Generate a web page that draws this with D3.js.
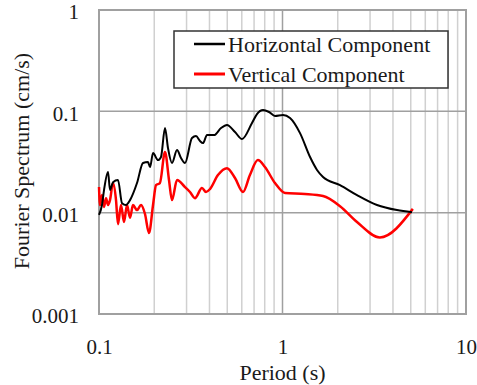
<!DOCTYPE html>
<html>
<head>
<meta charset="utf-8">
<script src="https://cdn.jsdelivr.net/npm/d3@7"></script>
<style>
  body { margin: 0; background: #fff; }
  svg text { font-family: "Liberation Serif", "Times New Roman", serif; fill: #1a1a1a; }
</style>
</head>
<body>
<svg id="chart" width="477" height="385"></svg>
<script>
// period (s) and amplitude
const hPeriod = [0.1, 0.1038, 0.1065, 0.112, 0.1148, 0.1192, 0.1269, 0.1335, 0.1403, 0.1476,
  0.1611, 0.1737, 0.1849, 0.1897, 0.197, 0.2097, 0.2177, 0.2289, 0.2377, 0.2499,
  0.2662, 0.2798, 0.2942, 0.3212, 0.3378, 0.3551, 0.3687, 0.3878, 0.4235, 0.4624,
  0.4983, 0.551, 0.6017, 0.682, 0.7261, 0.783, 0.8443, 0.9102, 1.0063, 1.099,
  1.246, 1.413, 1.542, 1.663, 2.058, 2.547, 3.273, 4.207, 5.078];
const hValue = [0.0095, 0.0119, 0.0167, 0.0252, 0.0167, 0.02, 0.021, 0.0124, 0.0119, 0.0133,
  0.0196, 0.0309, 0.0316, 0.0282, 0.0388, 0.033, 0.0354, 0.0684, 0.0434, 0.0309,
  0.0415, 0.0346, 0.0309, 0.0545, 0.057, 0.0509, 0.0486, 0.0583, 0.0583, 0.0684,
  0.0733, 0.0625, 0.0533, 0.0767, 0.094, 0.103, 0.0985, 0.0899, 0.092, 0.0859,
  0.061, 0.0354, 0.0264, 0.0225, 0.0187, 0.0149, 0.0119, 0.0106, 0.0101];

const vPeriod = [0.1, 0.1013, 0.1038, 0.1065, 0.1092, 0.112, 0.1148, 0.1192, 0.1238, 0.1269,
  0.1318, 0.1369, 0.1421, 0.1476, 0.1532, 0.1611, 0.1694, 0.1781, 0.1872, 0.197,
  0.2045, 0.2147, 0.2289, 0.2407, 0.2499, 0.2662, 0.2942, 0.3132, 0.3334, 0.3641,
  0.3828, 0.4025, 0.4449, 0.4983, 0.551, 0.6093, 0.6645, 0.734, 0.8022, 0.9102,
  1.033, 1.325, 1.663, 2.058, 2.547, 3.395, 5.132];
const vValue = [0.0179, 0.0119, 0.0149, 0.0114, 0.0139, 0.0119, 0.0133, 0.0196, 0.0133, 0.0077,
  0.0119, 0.0081, 0.0119, 0.0089, 0.0119, 0.0106, 0.0119, 0.0097, 0.0063, 0.0119,
  0.0187, 0.0196, 0.0397, 0.021, 0.0133, 0.021, 0.0179, 0.016, 0.0139, 0.0175,
  0.016, 0.0171, 0.0235, 0.0275, 0.022, 0.016, 0.0235, 0.033, 0.0282, 0.0196,
  0.0156, 0.0153, 0.0146, 0.0116, 0.0081, 0.0057, 0.0109];

const xTicks = [0.1, 1, 10];
const yTicks = [0.001, 0.01, 0.1, 1];
const seriesNames = ["Horizontal Component", "Vertical Component"];

const margin = {left: 99, right: 11, top: 10, bottom: 71};
const width = 477, height = 385;
const svg = d3.select("#chart");

const x = d3.scaleLog().domain([0.1, 10]).range([margin.left, width - margin.right]);
const y = d3.scaleLog().domain([0.001, 1]).range([height - margin.bottom, margin.top]);

// minor vertical grid
const minor = [];
for (let d = 0.1; d < 10; d *= 10)
  for (let k = 2; k <= 9; k++) minor.push(d * k);
svg.append("g").selectAll("line").data(minor).enter().append("line")
  .attr("x1", d => x(d)).attr("x2", d => x(d))
  .attr("y1", y(1)).attr("y2", y(0.001))
  .attr("stroke", "#d0d0d0").attr("stroke-width", 1.5);

// decade grid
svg.append("g").selectAll("line").data([1]).enter().append("line")
  .attr("x1", d => x(d)).attr("x2", d => x(d))
  .attr("y1", y(1)).attr("y2", y(0.001))
  .attr("stroke", "#a0a0a0").attr("stroke-width", 1.5);
svg.append("g").selectAll("line").data([0.01, 0.1]).enter().append("line")
  .attr("x1", x(0.1)).attr("x2", x(10))
  .attr("y1", d => y(d)).attr("y2", d => y(d))
  .attr("stroke", "#a0a0a0").attr("stroke-width", 1.5);

// frame
svg.append("rect")
  .attr("x", x(0.1)).attr("y", y(1))
  .attr("width", x(10) - x(0.1)).attr("height", y(0.001) - y(1))
  .attr("fill", "none").attr("stroke", "#a0a0a0").attr("stroke-width", 2);

// axes
const xAxis = svg.append("g")
  .attr("transform", "translate(0," + (height - margin.bottom) + ")")
  .call(d3.axisBottom(x).tickValues(xTicks).tickSize(0).tickPadding(25).tickFormat(d3.format("~g")));
const yAxis = svg.append("g")
  .attr("transform", "translate(" + margin.left + ",0)")
  .call(d3.axisLeft(y).tickValues(yTicks).tickSize(0).tickPadding(20).tickFormat(d3.format("~g")));
[xAxis, yAxis].forEach(a => {
  a.select(".domain").remove();
  a.selectAll("text").style("font-size", "21px").style("font-family", "Liberation Serif, serif").attr("fill", "#1a1a1a");
});
yAxis.selectAll("text").attr("dy", "0.42em");

svg.append("text")
  .attr("x", x(1)).attr("y", 380)
  .attr("text-anchor", "middle")
  .style("font-size", "22px")
  .text("Period (s)");

svg.append("text")
  .attr("transform", "translate(29,161) rotate(-90)")
  .attr("text-anchor", "middle")
  .style("font-size", "22px")
  .text("Fourier Spectrum (cm/s)");

// lines
const line = d3.line()
  .x(d => x(d[0]))
  .y(d => y(d[1]))
  .curve(d3.curveMonotoneX);

svg.append("path")
  .datum(d3.zip(vPeriod, vValue))
  .attr("d", line)
  .attr("fill", "none").attr("stroke", "#ff0000").attr("stroke-width", 2.5);

svg.append("path")
  .datum(d3.zip(hPeriod, hValue))
  .attr("d", line)
  .attr("fill", "none").attr("stroke", "#000").attr("stroke-width", 2);

// legend
const lg = svg.append("g");
lg.append("rect")
  .attr("x", 174).attr("y", 31).attr("width", 274).attr("height", 57)
  .attr("fill", "#fff").attr("stroke", "#333").attr("stroke-width", 1.5);
const colors = ["#000", "#ff0000"];
seriesNames.forEach((name, i) => {
  const yy = 44 + i * 30;
  lg.append("line")
    .attr("x1", 194).attr("x2", 225).attr("y1", yy).attr("y2", yy)
    .attr("stroke", colors[i]).attr("stroke-width", i ? 3 : 2.5);
  lg.append("text")
    .attr("x", 228).attr("y", yy + 8)
    .style("font-size", "22px")
    .text(name);
});
</script>
</body>
</html>
